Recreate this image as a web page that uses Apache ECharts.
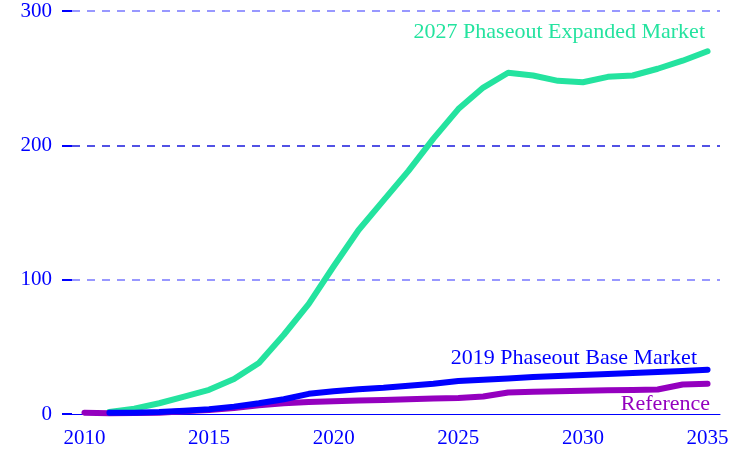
<!DOCTYPE html>
<html>
<head>
<meta charset="utf-8">
<script src="https://cdn.jsdelivr.net/npm/echarts@6/dist/echarts.min.js"></script>
<style>
  html, body { margin: 0; padding: 0; background: #fff; }
  #main { width: 735px; height: 449px; }
</style>
</head>
<body>
<div id="main"></div>
<script>
  // years and series values
  var refYears = [2010, 2011, 2012, 2013, 2014, 2015, 2016, 2017, 2018, 2019, 2020, 2021, 2022,
    2023, 2024, 2025, 2026, 2027, 2028, 2029, 2030, 2031, 2032, 2033, 2034, 2035];
  var refValues = [1, 0.5, 0.7, 1, 2, 3, 4.5, 6.5, 8, 9, 9.5, 10, 10.5,
    11, 11.5, 12, 13, 16, 16.5, 17, 17.3, 17.6, 17.9, 18.2, 22, 22.5];

  var marketYears = [2011, 2012, 2013, 2014, 2015, 2016, 2017, 2018, 2019, 2020, 2021, 2022,
    2023, 2024, 2025, 2026, 2027, 2028, 2029, 2030, 2031, 2032, 2033, 2034, 2035];
  var baseValues = [1, 1, 1.5, 2.5, 3.5, 5.5, 8, 11, 15, 17, 18.5, 19.5,
    21, 22.5, 24.5, 25.5, 26.5, 27.5, 28.3, 29, 29.7, 30.5, 31.3, 32, 33];
  var expandedValues = [1.5, 4, 8, 13, 18, 26, 38, 59, 82, 110, 137, 159,
    181, 205, 227, 243, 254, 252, 248, 247, 251, 252, 257, 263, 270];

  var xTicks = [2010, 2015, 2020, 2025, 2030, 2035];

  var serif = '"Liberation Serif", "DejaVu Serif", serif';

  function pairs(xs, ys) {
    return xs.map(function (x, i) { return [x, ys[i]]; });
  }

  function lineSeries(name, color, data, z) {
    return {
      name: name,
      type: 'line',
      data: data,
      symbol: 'none',
      z: z,
      lineStyle: { color: color, width: 6, cap: 'round', join: 'round' },
      itemStyle: { color: color }
    };
  }

  var chart = echarts.init(document.getElementById('main'));
  chart.setOption({
    animation: false,
    backgroundColor: '#ffffff',
    grid: { left: 72, right: 15, top: 11, bottom: 35 },
    xAxis: {
      type: 'value',
      min: 2009.5,
      max: 2035.5,
      z: 1,
      axisLine: { show: true, lineStyle: { color: '#0000ff', width: 1 } },
      axisTick: { show: false },
      splitLine: { show: false },
      axisLabel: {
        customValues: xTicks,
        color: '#0000ff',
        fontFamily: serif,
        fontSize: 21,
        margin: 14,
        formatter: function (v) { return String(v); }
      }
    },
    yAxis: {
      type: 'value',
      min: 0,
      max: 300,
      interval: 100,
      axisLine: { show: false },
      axisTick: { show: true, length: 10, lineStyle: { color: '#0000ff', width: 2 } },
      axisLabel: {
        color: '#0000ff',
        fontFamily: serif,
        fontSize: 21,
        margin: 20
      },
      splitLine: {
        show: true,
        lineStyle: {
          color: ['rgba(0,0,0,0)', '#7777ff', '#1a1add', '#7777ff'],
          type: [8, 7],
          width: 1.5
        }
      }
    },
    series: [
      lineSeries('Reference', '#9400bf', pairs(refYears, refValues), 3),
      lineSeries('2019 Phaseout Base Market', '#0000ff', pairs(marketYears, baseValues), 4),
      lineSeries('2027 Phaseout Expanded Market', '#24e39f', pairs(marketYears, expandedValues), 2)
    ],
    graphic: [
      {
        type: 'text', right: 30, top: 21,
        style: { text: '2027 Phaseout Expanded Market', fill: '#24e39f', font: '22px ' + serif }
      },
      {
        type: 'text', right: 38, top: 347,
        style: { text: '2019 Phaseout Base Market', fill: '#0000ff', font: '22px ' + serif }
      },
      {
        type: 'text', right: 25, top: 393,
        style: { text: 'Reference', fill: '#9400bf', font: '22px ' + serif }
      }
    ]
  });
</script>
</body>
</html>
